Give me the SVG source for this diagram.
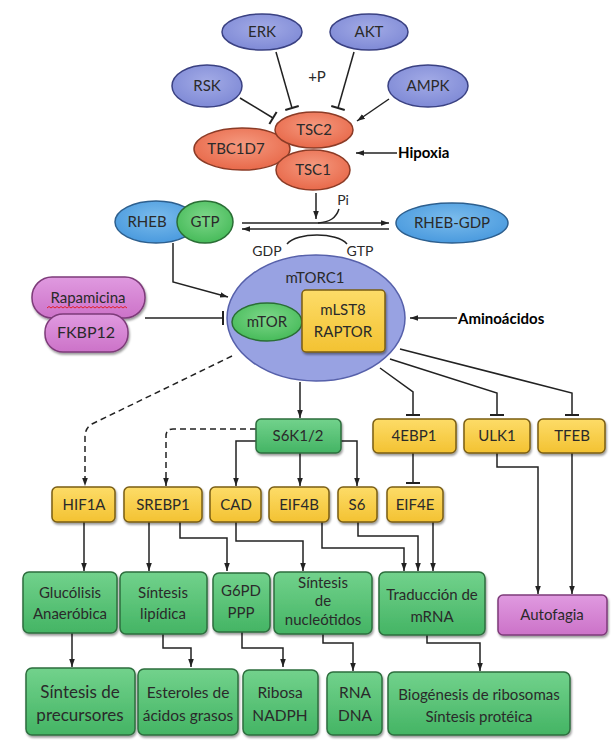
<svg xmlns="http://www.w3.org/2000/svg" width="614" height="740" viewBox="0 0 614 740">
<defs>
<style>
text{font-family:Lato,"Open Sans","Liberation Sans",sans-serif;font-size:15px;fill:#2a2a2a;text-anchor:middle}
.lbl{fill:#000;text-anchor:start;font-weight:bold}
.ln{fill:none;stroke:#222;stroke-width:1.5}
.dash{stroke-dasharray:6 4}
.blue{fill:url(#gBlue);stroke:#3a4182;stroke-width:1.5}
.tsc{fill:url(#gTsc);stroke:#8b3b26;stroke-width:1.5}
.rheb{fill:url(#gRheb);stroke:#2d5f8e;stroke-width:1.5}
.gtp{fill:url(#gGtp);stroke:#2a6e35;stroke-width:1.5}
.mtorc{fill:#98a2e2;stroke:#5660aa;stroke-width:1.5}
.yel{fill:url(#gYel);stroke:#7a5e14;stroke-width:1.5;filter:url(#sh)}
.grn{fill:url(#gGrn);stroke:#2d6e3e;stroke-width:1.5;filter:url(#sh)}
.pink{fill:url(#gPink);stroke:#7d3b79;stroke-width:1.5;filter:url(#sh)}
</style>
<filter id="sh" x="-10%" y="-10%" width="130%" height="140%"><feDropShadow dx="1" dy="2" stdDeviation="1.3" flood-color="#000" flood-opacity="0.4"/></filter>
<radialGradient id="gBlue" cx="50%" cy="40%" r="60%"><stop offset="0" stop-color="#a3abe6"/><stop offset="1" stop-color="#7f8ad6"/></radialGradient>
<radialGradient id="gTsc" cx="50%" cy="40%" r="60%"><stop offset="0" stop-color="#f59a80"/><stop offset="1" stop-color="#e8694a"/></radialGradient>
<radialGradient id="gRheb" cx="50%" cy="40%" r="60%"><stop offset="0" stop-color="#7bbcec"/><stop offset="1" stop-color="#4a9ade"/></radialGradient>
<radialGradient id="gGtp" cx="50%" cy="40%" r="60%"><stop offset="0" stop-color="#7ed78a"/><stop offset="1" stop-color="#47bb5a"/></radialGradient>
<linearGradient id="gYel" x1="0" y1="0" x2="0" y2="1"><stop offset="0" stop-color="#fddc68"/><stop offset="1" stop-color="#f3c232"/></linearGradient>
<linearGradient id="gGrn" x1="0" y1="0" x2="0" y2="1"><stop offset="0" stop-color="#72d28c"/><stop offset="1" stop-color="#44b464"/></linearGradient>
<linearGradient id="gPink" x1="0" y1="0" x2="0" y2="1"><stop offset="0" stop-color="#e09ae0"/><stop offset="1" stop-color="#cc72c8"/></linearGradient>
<marker id="arr" markerUnits="userSpaceOnUse" viewBox="0 0 10 10" refX="10" refY="5" markerWidth="8" markerHeight="8" orient="auto"><path d="M0,1.5 L10,5 L0,8.5 z" fill="#222"/></marker>
<marker id="tee" markerUnits="userSpaceOnUse" viewBox="0 -8 4 16" refX="2" refY="0" markerWidth="4" markerHeight="16" orient="auto"><path d="M2,-7 L2,7" stroke="#222" stroke-width="2"/></marker>
</defs>
<rect width="614" height="740" fill="#fff"/>

<g id="connectors">
<path class="ln" d="M240,98 L273,118" marker-end="url(#tee)"/>
<path class="ln" d="M276,52 L292,108" marker-end="url(#tee)"/>
<path class="ln" d="M354,52 L338,108" marker-end="url(#tee)"/>
<path class="ln" d="M389,99 L357,121" marker-end="url(#arr)"/>
<path class="ln" d="M397,153 L356,153" marker-end="url(#arr)"/>
<path class="ln" d="M316,193 L316,219" marker-end="url(#arr)"/>
<path class="ln" d="M339,209 C336,218 330,222 318,223"/>
<path class="ln" d="M242,223 L389,223" marker-end="url(#arr)"/>
<path class="ln" d="M389,229 L242,229" marker-end="url(#arr)"/>
<path class="ln" d="M287,244 C297,232 337,232 347,244"/>
<path class="ln" d="M173,243 L173,282 L228,297" marker-end="url(#arr)"/>
<path class="ln" d="M145,318 L223,318" marker-end="url(#tee)"/>
<path class="ln" d="M457,318 L410,318" marker-end="url(#arr)"/>
<path class="ln" d="M380,368 L413,392 L413,415" marker-end="url(#tee)"/>
<path class="ln" d="M390,359 L497,393 L497,415" marker-end="url(#tee)"/>
<path class="ln" d="M400,349 L572,393 L572,415" marker-end="url(#tee)"/>
<path class="ln" d="M300,382 L300,418" marker-end="url(#arr)"/>
<path class="ln dash" d="M232,356 L92,424 Q85,428 85,437 L85,486" marker-end="url(#arr)"/>
<path class="ln dash" d="M256,429 L173,429 Q166,429 166,436 L166,486" marker-end="url(#arr)"/>
<path class="ln" d="M256,441 L236,441 L236,486" marker-end="url(#arr)"/>
<path class="ln" d="M300,453 L300,486" marker-end="url(#arr)"/>
<path class="ln" d="M341,441 L357,441 L357,486" marker-end="url(#arr)"/>
<path class="ln" d="M413,453 L413,483" marker-end="url(#tee)"/>
<path class="ln" d="M84,522 L84,571" marker-end="url(#arr)"/>
<path class="ln" d="M149,522 L149,571" marker-end="url(#arr)"/>
<path class="ln" d="M180,522 L180,538 L227,538 L227,571" marker-end="url(#arr)"/>
<path class="ln" d="M236,522 L236,541 L303,541 L303,571" marker-end="url(#arr)"/>
<path class="ln" d="M322,522 L322,548 L404,548 L404,571" marker-end="url(#arr)"/>
<path class="ln" d="M358,522 L358,536 L418,536 L418,571" marker-end="url(#arr)"/>
<path class="ln" d="M433,522 L433,571" marker-end="url(#arr)"/>
<path class="ln" d="M497,453 L497,467 L538,467 L538,594" marker-end="url(#arr)"/>
<path class="ln" d="M572,453 L572,594" marker-end="url(#arr)"/>
<path class="ln" d="M72,633 L72,667" marker-end="url(#arr)"/>
<path class="ln" d="M163,634 L163,648 L191,648 L191,667" marker-end="url(#arr)"/>
<path class="ln" d="M242,632 L242,648 L283,648 L283,667" marker-end="url(#arr)"/>
<path class="ln" d="M323,634 L323,643 L353,643 L353,671" marker-end="url(#arr)"/>
<path class="ln" d="M427,635 L427,643 L480,643 L480,671" marker-end="url(#arr)"/>
</g>

<text x="317" y="82">+P</text>
<text x="343" y="205" style="font-size:14px">Pi</text>
<text x="267" y="256" style="font-size:14px">GDP</text>
<text x="360" y="256" style="font-size:14px">GTP</text>
<text class="lbl" x="398" y="158">Hipoxia</text>
<text class="lbl" x="458" y="324">Aminoácidos</text>

<g id="ERK"><ellipse class="blue" cx="262" cy="32" rx="40" ry="18"/><text x="262" y="37">ERK</text></g>
<g id="AKT"><ellipse class="blue" cx="369" cy="32" rx="39" ry="18"/><text x="369" y="37">AKT</text></g>
<g id="RSK"><ellipse class="blue" cx="207" cy="86" rx="35" ry="21"/><text x="207" y="91">RSK</text></g>
<g id="AMPK"><ellipse class="blue" cx="428" cy="86" rx="40" ry="21"/><text x="428" y="91">AMPK</text></g>
<g id="TBC1D7"><ellipse class="tsc" cx="242" cy="149" rx="48" ry="21"/><text x="236" y="154">TBC1D7</text></g>
<g id="TSC1"><ellipse class="tsc" cx="313" cy="170" rx="37" ry="20"/><text x="313" y="175">TSC1</text></g>
<g id="TSC2"><ellipse class="tsc" cx="314" cy="130" rx="39" ry="18"/><text x="314" y="135">TSC2</text></g>

<g id="RHEB"><ellipse class="rheb" cx="156" cy="222" rx="41" ry="21"/><text x="147" y="227">RHEB</text></g>
<g id="GTP"><ellipse class="gtp" cx="205" cy="222" rx="28" ry="21"/><text x="205" y="227">GTP</text></g>
<g id="RHEB-GDP"><ellipse class="rheb" cx="452" cy="223" rx="56" ry="20"/><text x="452" y="228">RHEB-GDP</text></g>

<g id="Rapamicina"><rect class="pink" x="32" y="277" width="113" height="41" rx="20"/><text x="88" y="303">Rapamicina</text><path d="M47,308 l2,-1.5 l2,1.5 l2,-1.5 l2,1.5 l2,-1.5 l2,1.5 l2,-1.5 l2,1.5 l2,-1.5 l2,1.5 l2,-1.5 l2,1.5 l2,-1.5 l2,1.5 l2,-1.5 l2,1.5 l2,-1.5 l2,1.5 l2,-1.5 l2,1.5 l2,-1.5 l2,1.5 l2,-1.5 l2,1.5 l2,-1.5 l2,1.5 l2,-1.5 l2,1.5 l2,-1.5 l2,1.5 l2,-1.5 l2,1.5 l2,-1.5 l2,1.5 l2,-1.5 l2,1.5 l2,-1.5 l2,1.5 l2,-1.5 l2,1.5" fill="none" stroke="#e0202a" stroke-width="1"/></g>
<g id="FKBP12"><rect class="pink" x="45" y="314" width="83" height="38" rx="18"/><text x="86" y="338" style="font-size:16px">FKBP12</text></g>

<g id="mTORC1"><ellipse class="mtorc" cx="316" cy="318" rx="89" ry="63"/><text x="315" y="283">mTORC1</text></g>
<g id="mTOR"><ellipse class="gtp" cx="267" cy="322" rx="35" ry="19"/><text x="267" y="327">mTOR</text></g>
<g id="mLST8-RAPTOR"><rect class="yel" x="302" y="290" width="83" height="62" rx="4"/><text x="343" y="315">mLST8</text><text x="343" y="337">RAPTOR</text></g>

<g id="S6K1-2"><rect class="grn" x="256" y="419" width="85" height="34" rx="5"/><text x="298" y="441">S6K1/2</text></g>
<g id="4EBP1"><rect class="yel" x="373" y="419" width="83" height="34" rx="5"/><text x="414" y="441">4EBP1</text></g>
<g id="ULK1"><rect class="yel" x="464" y="419" width="66" height="34" rx="5"/><text x="497" y="441">ULK1</text></g>
<g id="TFEB"><rect class="yel" x="538" y="419" width="67" height="34" rx="5"/><text x="572" y="441">TFEB</text></g>

<g id="HIF1A"><rect class="yel" x="52" y="487" width="63" height="35" rx="5"/><text x="84" y="510">HIF1A</text></g>
<g id="SREBP1"><rect class="yel" x="124" y="487" width="78" height="35" rx="5"/><text x="163" y="510">SREBP1</text></g>
<g id="CAD"><rect class="yel" x="210" y="487" width="51" height="35" rx="5"/><text x="236" y="510">CAD</text></g>
<g id="EIF4B"><rect class="yel" x="269" y="487" width="60" height="35" rx="5"/><text x="299" y="510">EIF4B</text></g>
<g id="S6"><rect class="yel" x="338" y="487" width="39" height="35" rx="5"/><text x="357" y="510">S6</text></g>
<g id="EIF4E"><rect class="yel" x="387" y="487" width="56" height="35" rx="5"/><text x="415" y="510">EIF4E</text></g>

<g id="Glucolisis"><rect class="grn" x="23" y="572" width="94" height="61" rx="6"/><text x="70" y="598">Glucólisis</text><text x="70" y="619">Anaeróbica</text></g>
<g id="Sintesis-lipidica"><rect class="grn" x="120" y="572" width="87" height="62" rx="6"/><text x="163" y="598">Síntesis</text><text x="163" y="619">lipídica</text></g>
<g id="G6PD"><rect class="grn" x="213" y="573" width="57" height="59" rx="6"/><text x="241" y="596">G6PD</text><text x="241" y="618">PPP</text></g>
<g id="Sintesis-nucleotidos"><rect class="grn" x="274" y="572" width="98" height="62" rx="6"/><text x="323" y="588">Síntesis</text><text x="323" y="606">de</text><text x="323" y="625">nucleótidos</text></g>
<g id="Traduccion"><rect class="grn" x="379" y="572" width="106" height="63" rx="6"/><text x="432" y="600">Traducción de</text><text x="432" y="622">mRNA</text></g>
<g id="Autofagia"><rect class="pink" x="498" y="595" width="109" height="40" rx="5"/><text x="552" y="620">Autofagia</text></g>

<g id="Sintesis-precursores"><rect class="grn" x="26" y="668" width="109" height="67" rx="6"/><text x="80" y="698" style="font-size:17px">Síntesis de</text><text x="80" y="721" style="font-size:17px">precursores</text></g>
<g id="Esteroles"><rect class="grn" x="138" y="669" width="100" height="66" rx="6"/><text x="188" y="698" style="font-size:15.5px">Esteroles de</text><text x="188" y="721" style="font-size:15.5px">ácidos grasos</text></g>
<g id="Ribosa"><rect class="grn" x="243" y="670" width="75" height="65" rx="6"/><text x="280" y="698" style="font-size:15.5px">Ribosa</text><text x="280" y="721" style="font-size:15.5px">NADPH</text></g>
<g id="RNA-DNA"><rect class="grn" x="327" y="672" width="55" height="63" rx="6"/><text x="355" y="698" style="font-size:15.5px">RNA</text><text x="355" y="721" style="font-size:15.5px">DNA</text></g>
<g id="Biogenesis"><rect class="grn" x="388" y="672" width="182" height="63" rx="6"/><text x="479" y="700">Biogénesis de ribosomas</text><text x="479" y="722">Síntesis protéica</text></g>
</svg>
